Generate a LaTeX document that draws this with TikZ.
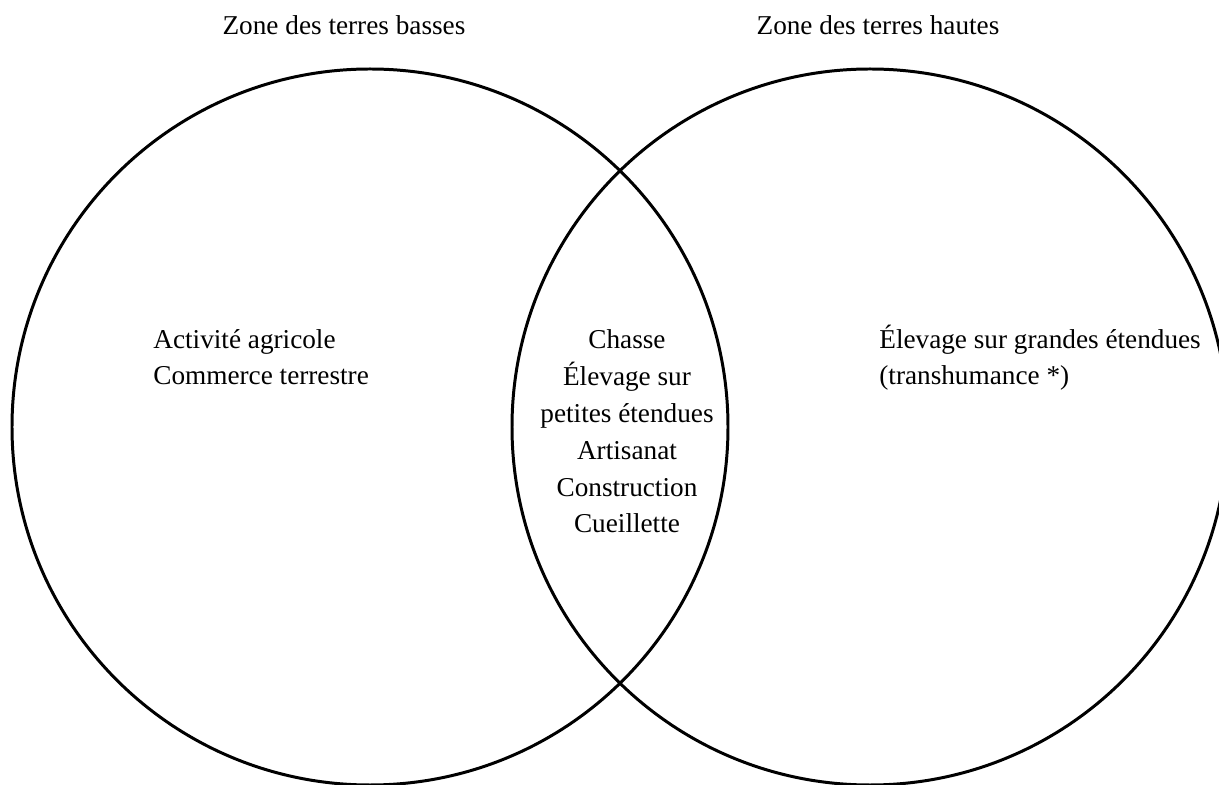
\documentclass[tikz,border=0pt]{standalone}
\usepackage{fontspec}
\setmainfont{Liberation Serif}
\usetikzlibrary{positioning}

\begin{document}
\begin{tikzpicture}[every node/.style={font=\fontsize{15.5}{21}\selectfont, inner sep=0pt},
  zone/.style={line width=1.7pt}]
\useasboundingbox (0,0) rectangle (24.38,15.70);
\coordinate (low) at (7.40,7.16);
\coordinate (high) at (17.40,7.16);

\draw[zone] (low) circle (7.16);
\draw[zone] (high) circle (7.16);

\node[name=title_low, anchor=base] at (6.88,15.00) {Zone des terres basses};
\node[name=title_high, anchor=base] at (17.56,15.00) {Zone des terres hautes};

% base anchor sits on the last line of each block
\node[name=only_low, anchor=base west, align=left] at (3.06,8.00)
  {Activité agricole\\Commerce terrestre};
\node[name=both, anchor=base, align=center] at (12.54,5.04)
  {Chasse\\Élevage sur\\petites étendues\\Artisanat\\Construction\\Cueillette};
\node[name=only_high, anchor=base west, align=left] at (17.58,8.00)
  {Élevage sur grandes étendues\\(transhumance *)};

\end{tikzpicture}
\end{document}
